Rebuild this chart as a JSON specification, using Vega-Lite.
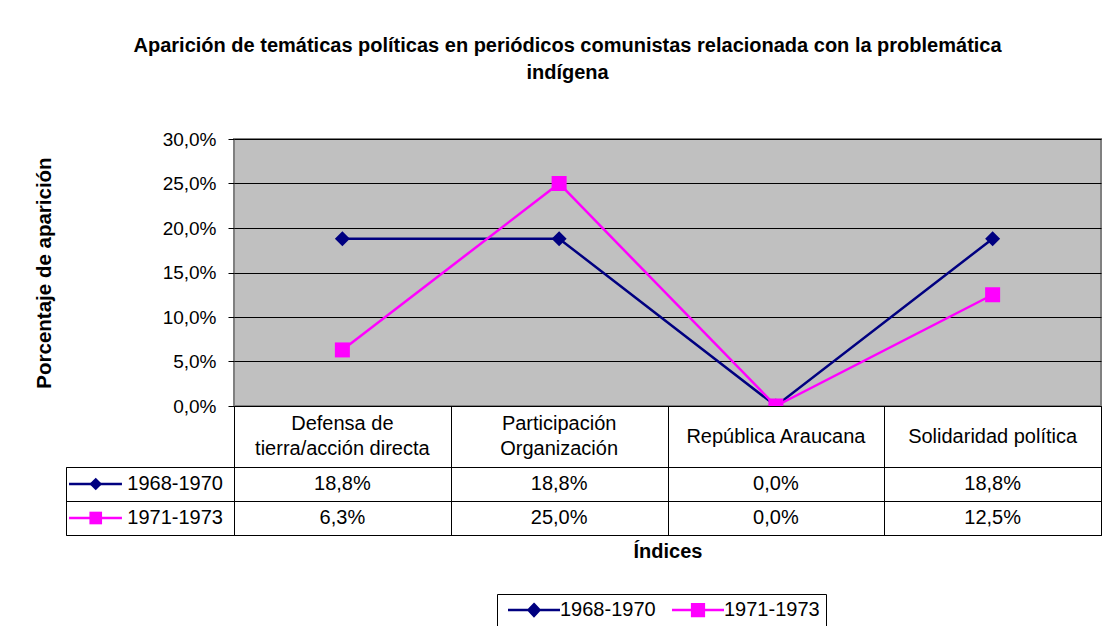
{
  "$schema": "https://vega.github.io/schema/vega-lite/v6.json",
  "background": "white",
  "padding": {"left": 33, "top": 36, "right": 2, "bottom": 2},
  "title": {
    "text": ["Aparición de temáticas políticas en periódicos comunistas relacionada con la problemática", "indígena"],
    "font": "Liberation Sans", "fontSize": 20, "fontWeight": "bold", "color": "#000000",
    "anchor": "middle", "lineHeight": 27, "offset": 46
  },
  "datasets": {
    "main": [
      {"cat": "Defensa de tierra/acción directa", "series": "1968-1970", "value": 0.188},
      {"cat": "Participación Organización", "series": "1968-1970", "value": 0.188},
      {"cat": "República Araucana", "series": "1968-1970", "value": 0.0},
      {"cat": "Solidaridad política", "series": "1968-1970", "value": 0.188},
      {"cat": "Defensa de tierra/acción directa", "series": "1971-1973", "value": 0.063},
      {"cat": "Participación Organización", "series": "1971-1973", "value": 0.25},
      {"cat": "República Araucana", "series": "1971-1973", "value": 0.0},
      {"cat": "Solidaridad política", "series": "1971-1973", "value": 0.125}
    ],
    "cats": [
      {"cat": "Defensa de tierra/acción directa", "label": "Defensa de\ntierra/acción directa"},
      {"cat": "Participación Organización", "label": "Participación\nOrganización"},
      {"cat": "República Araucana", "label": "República Araucana"},
      {"cat": "Solidaridad política", "label": "Solidaridad política"}
    ],
    "series": [
      {"series": "1968-1970"},
      {"series": "1971-1973"}
    ]
  },
  "columns": 2,
  "spacing": 0,
  "bounds": "flush",
  "resolve": {
    "scale": {"color": "independent", "shape": "independent", "x": "independent", "y": "independent"},
    "legend": {"color": "independent", "shape": "independent"}
  },
  "concat": [
    {
      "width": 168, "height": 267,
      "view": {"stroke": null},
      "data": {"values": []},
      "mark": "point"
    },
    {
      "width": 867, "height": 267,
      "view": {"fill": "#C0C0C0", "stroke": "#808080", "strokeWidth": 2},
      "data": {"name": "main"},
      "encoding": {
        "x": {"field": "cat", "type": "nominal",
          "scale": {"domain": ["Defensa de tierra/acción directa", "Participación Organización", "República Araucana", "Solidaridad política"], "paddingInner": 0, "paddingOuter": 0},
          "axis": null},
        "y": {"field": "value", "type": "quantitative",
          "scale": {"domain": [0, 0.3], "nice": false},
          "axis": {
            "values": [0, 0.05, 0.1, 0.15, 0.2, 0.25, 0.3], "format": ".1%",
            "grid": true, "gridColor": "#000000", "gridOpacity": 1, "gridWidth": 1,
            "domain": false, "ticks": true, "tickSize": 6, "tickColor": "#000000", "tickWidth": 1,
            "labelFont": "Liberation Sans", "labelFontSize": 19, "labelColor": "#000000", "labelPadding": 12, "labelFlush": false, "labelOverlap": false,
            "title": "Porcentaje de aparición", "titleFont": "Liberation Sans", "titleFontSize": 20.5, "titleFontWeight": "bold", "titleColor": "#000000", "titlePadding": 108
          }}
      },
      "layer": [
        {"mark": {"type": "line", "strokeWidth": 2.5},
          "encoding": {
            "color": {"field": "series", "type": "nominal",
              "scale": {"domain": ["1968-1970", "1971-1973"], "range": ["#000080", "#FF00FF"]},
              "legend": {
                "orient": "none", "legendX": 263, "legendY": 455, "direction": "horizontal", "title": null,
                "strokeColor": "#000000", "fillColor": "#FFFFFF", "padding": 6,
                "labelFont": "Liberation Sans", "labelFontSize": 20, "labelColor": "#000000",
                "symbolSize": 169, "symbolOffset": 21, "labelOffset": 16, "columnPadding": 11,
                "encode": {
                  "symbols": {"update": {
                    "shape": {"signal": "datum.value === '1968-1970' ? 'M-4,0H4M0,-0.9L0.85,0L0,0.9L-0.85,0Z' : 'M-4,0H4M-0.9,-0.9H0.9V0.9H-0.9Z'"},
                    "fill": {"signal": "datum.value === '1968-1970' ? '#000080' : '#FF00FF'"},
                    "stroke": {"signal": "datum.value === '1968-1970' ? '#000080' : '#FF00FF'"},
                    "strokeWidth": {"value": 2.5},
                    "opacity": {"value": 1}
                  }}
                }
              }}
          }},
        {"transform": [{"filter": "datum.series === '1968-1970'"}],
          "mark": {"type": "point", "shape": "diamond", "filled": true, "opacity": 1, "size": 225, "color": "#000080"}},
        {"transform": [{"filter": "datum.series === '1971-1973'"}],
          "mark": {"type": "point", "shape": "square", "filled": true, "opacity": 1, "size": 225, "color": "#FF00FF"}}
      ]
    },
    {
      "width": 168, "height": 61,
      "view": {"stroke": null},
      "data": {"values": []},
      "mark": "point"
    },
    {
      "width": 867, "height": 61,
      "view": {"stroke": "#000000", "fill": "#FFFFFF"},
      "data": {"name": "cats"},
      "encoding": {
        "x": {"field": "cat", "type": "nominal",
          "scale": {"domain": ["Defensa de tierra/acción directa", "Participación Organización", "República Araucana", "Solidaridad política"], "paddingInner": 0, "paddingOuter": 0},
          "axis": {"grid": true, "tickBand": "extent", "gridColor": "#000000", "gridOpacity": 1, "labels": false, "ticks": false, "domain": false, "title": null}},
        "text": {"field": "label", "type": "nominal"}
      },
      "layer": [
        {"transform": [{"filter": "indexof(datum.label, '\\n') >= 0"}],
          "mark": {"type": "text", "font": "Liberation Sans", "fontSize": 20, "lineBreak": "\n", "lineHeight": 25, "baseline": "middle", "dy": -12.5, "color": "#000000"}},
        {"transform": [{"filter": "indexof(datum.label, '\\n') < 0"}],
          "mark": {"type": "text", "font": "Liberation Sans", "fontSize": 20, "baseline": "middle", "color": "#000000"}}
      ]
    },
    {
      "width": 168, "height": 68,
      "view": {"stroke": "#000000", "fill": "#FFFFFF"},
      "data": {"name": "series"},
      "encoding": {
        "y": {"field": "series", "type": "nominal",
          "scale": {"domain": ["1968-1970", "1971-1973"], "paddingInner": 0, "paddingOuter": 0},
          "axis": {"grid": true, "tickBand": "extent", "gridColor": "#000000", "gridOpacity": 1, "labels": false, "ticks": false, "domain": false, "title": null}}
      },
      "layer": [
        {"mark": {"type": "rule", "strokeWidth": 2.5},
          "encoding": {
            "x": {"datum": 0.018, "type": "quantitative", "scale": {"domain": [0, 1]}, "axis": null},
            "x2": {"datum": 0.333},
            "color": {"field": "series", "type": "nominal", "scale": {"domain": ["1968-1970", "1971-1973"], "range": ["#000080", "#FF00FF"]}, "legend": null}
          }},
        {"mark": {"type": "point", "filled": true, "opacity": 1, "size": 160},
          "encoding": {
            "x": {"datum": 0.177, "type": "quantitative"},
            "color": {"field": "series", "type": "nominal", "scale": {"domain": ["1968-1970", "1971-1973"], "range": ["#000080", "#FF00FF"]}, "legend": null},
            "shape": {"field": "series", "type": "nominal", "scale": {"domain": ["1968-1970", "1971-1973"], "range": ["diamond", "square"]}, "legend": null}
          }},
        {"mark": {"type": "text", "align": "left", "baseline": "middle", "font": "Liberation Sans", "fontSize": 20, "color": "#000000"},
          "encoding": {
            "x": {"datum": 0.365, "type": "quantitative"},
            "text": {"field": "series", "type": "nominal"}
          }}
      ]
    },
    {
      "width": 867, "height": 68,
      "view": {"stroke": "#000000", "fill": "#FFFFFF"},
      "data": {"name": "main"},
      "mark": {"type": "text", "font": "Liberation Sans", "fontSize": 20, "baseline": "middle", "color": "#000000"},
      "encoding": {
        "x": {"field": "cat", "type": "nominal",
          "scale": {"domain": ["Defensa de tierra/acción directa", "Participación Organización", "República Araucana", "Solidaridad política"], "paddingInner": 0, "paddingOuter": 0},
          "axis": {"grid": true, "tickBand": "extent", "gridColor": "#000000", "gridOpacity": 1, "labels": false, "ticks": false, "domain": false,
            "title": "Índices", "titleFont": "Liberation Sans", "titleFontSize": 20, "titleFontWeight": "bold", "titleColor": "#000000", "titlePadding": 6}},
        "y": {"field": "series", "type": "nominal",
          "scale": {"domain": ["1968-1970", "1971-1973"], "paddingInner": 0, "paddingOuter": 0},
          "axis": {"grid": true, "tickBand": "extent", "gridColor": "#000000", "gridOpacity": 1, "labels": false, "ticks": false, "domain": false, "title": null}},
        "text": {"field": "value", "type": "quantitative", "format": ".1%"}
      }
    }
  ],
  "config": {
    "font": "Liberation Sans",
    "locale": {"number": {"decimal": ",", "thousands": ".", "grouping": [3], "currency": ["", " €"]}}
  }
}
